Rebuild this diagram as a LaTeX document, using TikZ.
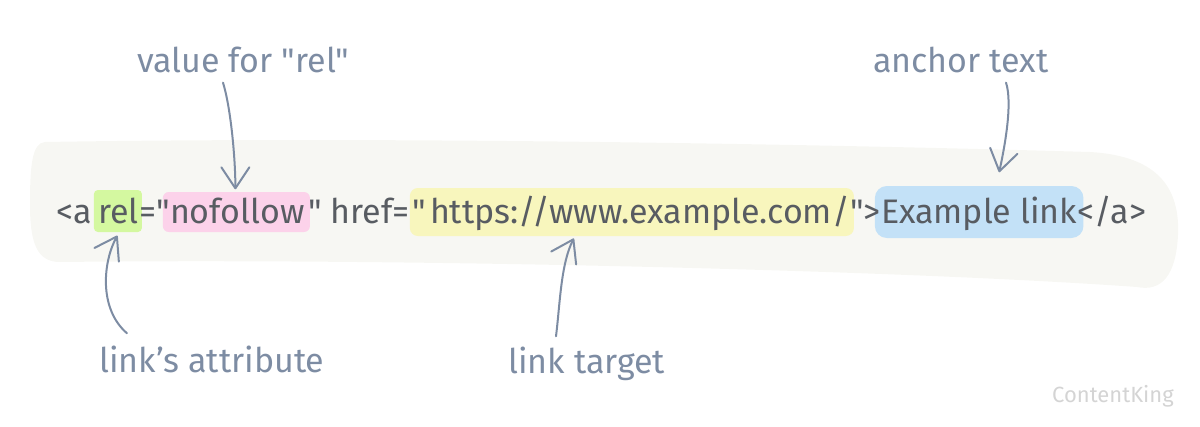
\documentclass[tikz,border=0pt]{standalone}
\usepackage{fontspec}
\setmainfont{Fira Sans}[Ligatures=TeXOff]
\usetikzlibrary{arrows.meta, calc, backgrounds}
\definecolor{codegray}{RGB}{88,92,98}
\definecolor{notegray}{RGB}{125,140,163}
\definecolor{blobfill}{RGB}{247,247,243}
\definecolor{hlgreen}{RGB}{212,248,160}
\definecolor{hlpink}{RGB}{252,210,234}
\definecolor{hlyellow}{RGB}{248,246,189}
\definecolor{hlblue}{RGB}{195,225,247}
\definecolor{markgray}{RGB}{212,212,212}

\begin{document}
\begin{tikzpicture}[x=1pt, y=-1pt,
	>={Straight Barb[length=21pt, width=28pt, round]},
	code/.style={inner sep=0pt, anchor=base west, text=codegray, font=\fontsize{34}{40}\selectfont},
	note/.style={inner sep=0pt, anchor=base west, text=notegray, font=\fontsize{34}{40}\selectfont},
	pointer/.style={->, draw=notegray, line width=2pt, line cap=round}]
	\useasboundingbox (0,0) rectangle (1200,426);

	% the line of html
	\node [code] (open) at (56,223) {<a};
	\node [code] (rel) at ($(open.base east)+(6,0)$) {rel};
	\node [code] (eq) at (rel.base east) {="};
	\node [code] (nofollow) at (eq.base east) {nofollow};
	\node [code] (href) at ($(nofollow.base east)+(3,0)$) {" href=};
	\node [code] (quote) at ($(href.base east)+(2,0)$) {"};
	\node [code] (url) at ($(quote.base east)+(4,0)$) {https://www.example.com/};
	\node [code] (close) at (url.base east) {">};
	\node [code] (anchor) at (close.base east) {Example link};
	\node [code] (end) at (anchor.base east) {</a>};

	\begin{pgfonlayer}{background}
		\fill [blobfill] (45,142) .. controls (400,136) and (850,145) .. (1090,152)
			.. controls (1160,156) and (1180,190) .. (1178,235)
			.. controls (1176,275) and (1162,292) .. (1137,287)
			.. controls (900,270) and (400,258) .. (60,262)
			.. controls (38,262) and (30,245) .. (30,205)
			.. controls (30,165) and (32,143) .. (45,142) -- cycle;
		\fill [hlgreen, rounded corners=4pt] ($(rel.base west)+(-4,-33)$) rectangle ($(rel.base east)+(3,9)$);
		\fill [hlpink, rounded corners=6pt] ($(nofollow.base west)+(-7,-31)$) rectangle ($(nofollow.base east)+(5,9)$);
		\fill [hlyellow, rounded corners=8pt] ($(quote.base west)+(-2,-35)$) rectangle ($(url.base east)+(4,13)$);
		\fill [hlblue, rounded corners=12pt] ($(anchor.base west)+(-6,-37)$) rectangle ($(anchor.base east)+(6,15)$);
	\end{pgfonlayer}

	% notes
	\node [note] (value) at (137,72) {value for "rel"};
	\node [note] (text) at (873,72) {anchor text};
	\node [note] (attr) at (99,372) {link’s attribute};
	\node [note] (target) at (508,373) {link target};
	\node [inner sep=0pt, anchor=base west, text=markgray, font=\fontsize{22}{26}\selectfont] (brand) at (1052,402) {ContentKing};

	\coordinate (Svalue) at ($(value.south west)+(86,10)$);
	\coordinate (Enofollow) at ($(nofollow.north)+(-2,-8)$);
	\draw [pointer] (Svalue) .. controls ($(Svalue)+(8,26)$) and ($(Enofollow)+(0,-30)$) .. (Enofollow);

	\coordinate (Stext) at ($(text.south west)+(133,10)$);
	\coordinate (Eanchor) at ($(anchor.north)+(20,-24)$);
	\draw [pointer] (Stext) .. controls ($(Stext)+(7,21)$) and ($(Eanchor)+(5,-23)$) .. (Eanchor);

	\coordinate (Sattr) at ($(attr.north west)+(28,-12)$);
	\coordinate (Erel) at ($(rel.south)+(-1,12)$);
	\draw [pointer] (Sattr) .. controls ($(Sattr)+(-29,-25)$) and ($(Erel)+(-14,25)$) .. (Erel);

	\coordinate (Starget) at ($(target.north west)+(48,-10)$);
	\coordinate (Eurl) at ($(url.south)+(-66,8)$);
	\draw [pointer] (Starget) .. controls ($(Starget)+(4,-32)$) and ($(Eurl)+(-13,25)$) .. (Eurl);
\end{tikzpicture}
\end{document}
